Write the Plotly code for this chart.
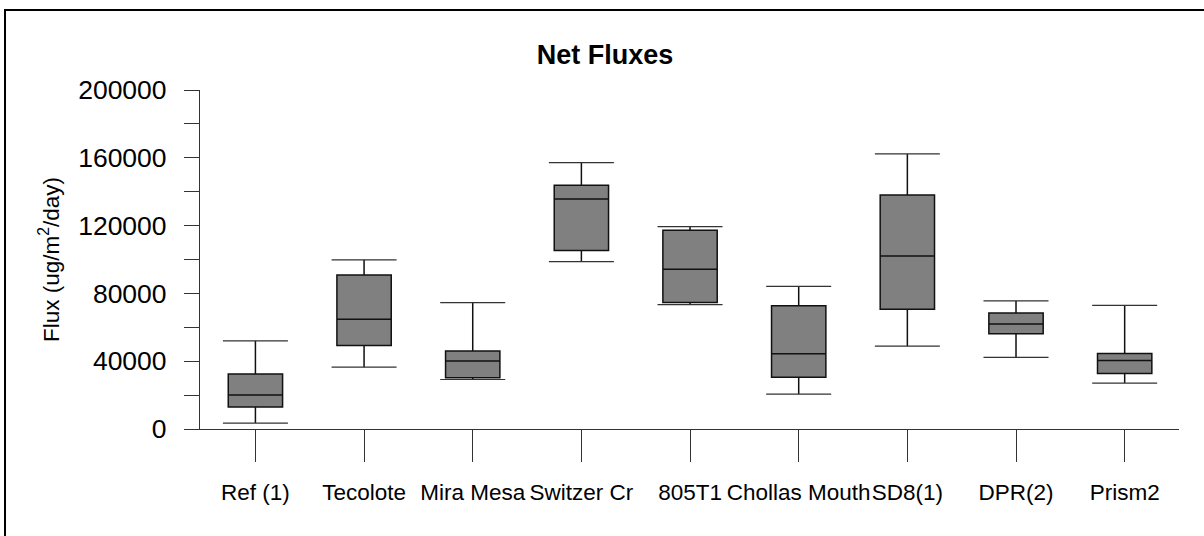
import plotly.graph_objects as go

categories = ["Ref (1)", "Tecolote", "Mira Mesa", "Switzer Cr", "805T1",
              "Chollas Mouth", "SD8(1)", "DPR(2)", "Prism2"]
lower = [3500, 36500, 29200, 98800, 73400, 20600, 48900, 42200, 27100]
q1 = [13000, 49300, 30200, 105300, 74600, 30600, 70700, 56200, 32800]
median = [20000, 64800, 40100, 135700, 94300, 44400, 102100, 61900, 40400]
q3 = [32400, 90800, 46000, 143800, 117300, 72700, 138100, 68400, 44600]
upper = [52000, 99800, 74600, 157200, 119400, 84100, 162300, 75600, 72900]

W, H = 1204, 536
ml, mr, mt, mb = 200, 25, 90, 107
pw, ph = W - ml - mr, H - mt - mb
font_family = "Arial, Liberation Sans, sans-serif"

fig = go.Figure()
fig.add_trace(go.Box(
    x=categories, q1=q1, median=median, q3=q3,
    lowerfence=lower, upperfence=upper,
    boxpoints=False, width=0.5, whiskerwidth=0,
    fillcolor="#808080", line=dict(color="#111111", width=1.5),
    showlegend=False, hoverinfo="skip",
))
for vals in (upper, lower):
    fig.add_trace(go.Scatter(
        x=categories, y=vals, mode="markers",
        marker=dict(size=1, color="rgba(0,0,0,0)"),
        error_y=dict(type="data", array=[0] * len(vals), width=32.5,
                     thickness=1.2, color="#333333"),
        showlegend=False, hoverinfo="skip",
    ))

fig.update_layout(
    width=W, height=H,
    margin=dict(l=ml, r=mr, t=mt, b=mb, pad=0, autoexpand=False),
    paper_bgcolor="white", plot_bgcolor="white",
    font=dict(family=font_family, color="black"),
    title=dict(text="<b>Net Fluxes</b>", font=dict(size=27, family=font_family),
               x=605 / W, xref="container", xanchor="center",
               y=1 - 55 / H, yref="container", yanchor="middle"),
    showlegend=False,
)
fig.update_xaxes(
    type="category", range=[-0.51, 8.5], tickangle=0, automargin=False,
    showline=True, linecolor="#333333", linewidth=1.2,
    ticks="outside", ticklen=32, tickcolor="#333333", tickwidth=1.2,
    tickfont=dict(size=22.5, family=font_family), ticklabelstandoff=11,
    showgrid=False, zeroline=False, fixedrange=True,
)
fig.update_yaxes(
    range=[0, 200000], tickvals=[0, 40000, 80000, 120000, 160000, 200000],
    ticktext=["0", "40000", "80000", "120000", "160000", "200000"],
    automargin=False,
    showline=True, linecolor="#333333", linewidth=1.2,
    ticks="outside", ticklen=15, tickcolor="#333333", tickwidth=1.2,
    minor=dict(tickvals=[20000, 60000, 100000, 140000, 180000], ticks="outside",
               ticklen=15, tickcolor="#333333", tickwidth=1.2, showgrid=False),
    tickfont=dict(size=26.5, family=font_family), ticklabelstandoff=12,
    title=dict(text="Flux (ug/m<sup>2</sup>/day)", font=dict(size=22.5, family=font_family),
               standoff=12),
    showgrid=False, zeroline=False, fixedrange=True,
)
# Outer frame (top and left edges visible)
fig.add_shape(type="rect", xref="paper", yref="paper",
              x0=(5 - ml) / pw, x1=(W + 20 - ml) / pw,
              y0=-(H + 20 - (H - mb)) / ph, y1=((H - mb) - 10) / ph,
              line=dict(color="black", width=2), fillcolor="rgba(0,0,0,0)", layer="above")

fig.write_html("out.html")
